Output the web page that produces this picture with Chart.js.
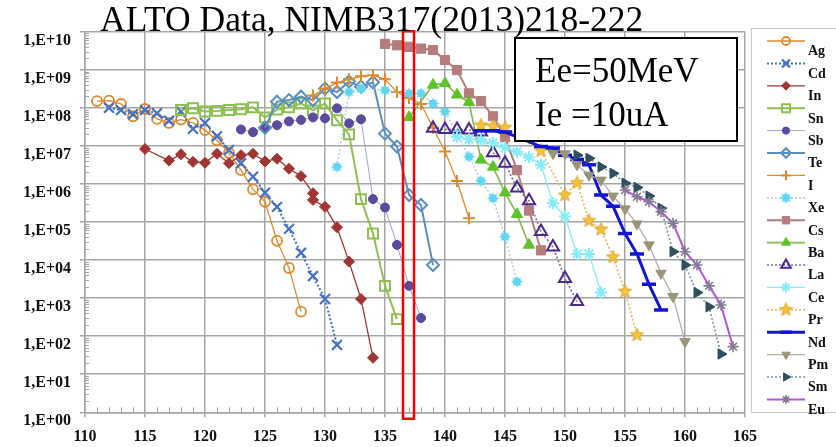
<!DOCTYPE html>
<html><head><meta charset="utf-8">
<script src="https://cdn.jsdelivr.net/npm/chart.js@4"></script>
<style>html,body{margin:0;padding:0;background:#fff;}#wrap{width:836px;height:447px;position:relative;}</style>
</head><body><div id="wrap"><canvas id="c" width="836" height="447"></canvas></div>
<script>
// ---- data (mass number A, yield) ----
const Ag_A=[111,112,113,114,115,116,117,118,119,120,121,122,123,124,125,126,127,128];
const Ag_Y=[1.5e8,1.55e8,1.26e8,6.0e7,9.3e7,5.1e7,4.0e7,4.9e7,4.0e7,2.6e7,1.4e7,6.5e6,2.3e6,7.2e5,3.4e5,3.2e4,6.2e3,4.4e2];
const Cd_A=[112,113,114,115,116,117,118,119,120,121,122,123,124,125,126,127,128,129,130,131];
const Cd_Y=[1.0e8,8.7e7,6.8e7,8.7e7,7.2e7,4.6e7,8.0e7,2.8e7,4.0e7,1.8e7,7.8e6,3.5e6,1.55e6,5.9e5,2.5e5,6.6e4,1.55e4,3.8e3,9.5e2,59];
const In_A=[115,117,118,119,120,121,122,123,124,125,126,127,128,129,129,130,131,132,133,134];
const In_Y=[8.3e6,4.1e6,6.0e6,3.8e6,3.6e6,6.2e6,3.5e6,5.7e6,6.2e6,3.9e6,4.6e6,2.5e6,1.6e6,5.7e5,3.8e5,2.5e5,7.3e4,9.1e3,9.5e2,27];
const Sn_A=[118,119,120,121,122,123,124,125,126,127,128,129,130,131,132,133,134,135,136];
const Sn_Y=[8.8e7,9.7e7,8.0e7,8.3e7,8.8e7,9.2e7,1.03e8,5.6e7,9.0e7,1.03e8,1.3e8,8.5e7,1.3e8,4.7e7,2.0e7,4.0e5,5.0e4,2.1e3,2.8e2];
const Sb_A=[123,124,125,126,127,128,129,130,131,132,133,134,135,136,137,138];
const Sb_Y=[2.7e7,2.3e7,3.0e7,3.5e7,4.4e7,4.8e7,5.6e7,5.3e7,9.7e7,3.9e7,5.0e7,4.0e5,2.4e5,2.5e4,2.1e3,3.0e2];
const Te_A=[125,126,127,128,129,130,131,132,133,134,135,136,137,138,139];
const Te_Y=[3.0e7,1.45e8,1.6e8,1.95e8,1.6e8,3.2e8,2.6e8,4.9e8,3.6e8,4.7e8,2.1e7,9.6e6,5.1e5,2.8e5,7.4e3];
const I_A=[129,130,131,132,133,134,135,136,137,138,139,140,141,142];
const I_Y=[2.1e8,3.2e8,4.6e8,5.6e8,6.8e8,7.2e8,5.6e8,2.6e8,1.8e8,1.26e8,3.0e7,7.1e6,1.2e6,1.25e5];
const Xe_A=[131,132,133,135,137,138,139,140,141,142,143,144,145,146];
const Xe_Y=[2.8e6,2.6e8,3.2e8,2.9e8,2.4e8,2.4e8,1.3e8,8.0e7,2.1e7,5.2e6,1.2e6,4.2e5,4.1e4,2.7e3];
const Cs_A=[135,136,137,138,139,140,141,142,143,144,145,146,147,148];
const Cs_Y=[4.8e9,4.4e9,4.0e9,3.6e9,3.3e9,1.8e9,9.8e8,2.4e8,1.5e8,6.0e7,1.7e7,2.3e6,2.0e5,1.8e4];
const Ba_A=[137,139,140,141,142,143,144,145,146,147];
const Ba_Y=[5.6e7,4.0e8,4.4e8,2.2e8,1.4e8,4.3e6,2.8e6,5.9e5,1.6e5,2.5e4];
const La_A=[139,140,141,142,143,144,145,146,147,148,149,150,151];
const La_Y=[2.9e7,2.7e7,2.7e7,2.6e7,2.3e7,6.6e6,3.5e6,7.8e5,3.6e5,5.6e4,2.2e4,3.3e3,8.1e2];
const Ce_A=[141,142,143,144,145,146,147,148,149,150,151,152,153];
const Ce_Y=[1.7e7,1.5e7,1.4e7,1.2e7,9.0e6,7.0e6,5.0e6,3.2e6,3.1e5,1.4e5,1.45e4,1.45e4,1.4e3];
const Pr_A=[143,144,145,148,150,151,152,153,154,155,156];
const Pr_Y=[3.5e7,3.3e7,3.0e7,7.4e6,5.1e5,1.07e6,1.08e5,6.4e4,1.2e4,1.5e3,1.07e2];
const Nd_A=[143,144,145,148,149,150,151,152,153,154,155,156,157,158];
const Nd_Y=[2.5e7,2.5e7,2.3e7,9.6e6,8.8e6,5.7e6,4.4e6,3.2e6,5.1e5,2.6e5,5.0e4,1.45e4,2.3e3,4.9e2];
const Pm_A=[149,150,151,152,153,154,155,156,157,158,159,160];
const Pm_Y=[6.3e6,6.2e6,3.2e6,1.7e6,1.26e6,4.8e5,2.2e5,8.9e4,2.5e4,4.5e3,1.1e3,72];
const Sm_A=[151,152,153,154,155,156,157,158,159,160,161,162,163];
const Sm_Y=[5.7e6,4.7e6,2.8e6,1.9e6,1.05e6,8.1e5,4.8e5,2.3e5,1.66e4,7.4e3,1.4e3,5.9e2,34];
const Eu_A=[155,156,157,158,159,160,161,162,163,164];
const Eu_Y=[6.9e5,4.6e5,3.4e5,1.86e5,9.3e4,1.66e4,7.4e3,2.1e3,6.6e2,53];

const xTickLabels=['110','115','120','125','130','135','140','145','150','155','160','165'];
const yTickValues=[1,1e1,1e2,1e3,1e4,1e5,1e6,1e7,1e8,1e9,1e10];
const yTickLabels=['1,E+00','1,E+01','1,E+02','1,E+03','1,E+04','1,E+05','1,E+06','1,E+07','1,E+08','1,E+09','1,E+10'];
const titleText='ALTO Data, NIMB317(2013)218-222';
const boxLines=['Ee=50MeV','Ie =10uA'];

function pts(A,Y){return A.map((a,i)=>({x:a,y:Y[i]}));}

function starMarker(size,nPts,rOut,rIn,fill,stroke){
  const c=document.createElement('canvas');c.width=c.height=size;
  const g=c.getContext('2d');const cx=size/2,cy=size/2;
  g.beginPath();
  for(let i=0;i<nPts*2;i++){
    const r=i%2===0?rOut:rIn;const a=-Math.PI/2+i*Math.PI/nPts;
    const px=cx+r*Math.cos(a),py=cy+r*Math.sin(a);
    if(i===0)g.moveTo(px,py);else g.lineTo(px,py);
  }
  g.closePath();g.fillStyle=fill;g.fill();
  if(stroke){g.strokeStyle=stroke;g.lineWidth=1;g.stroke();}
  return c;
}
const prStar=starMarker(15,5,7,3,'#F5C23C','#E0A42C');
const xeFlower=starMarker(13,8,6,3.6,'#5FD5F2',null);

function ds(label,A,Y,o){
  return Object.assign({label,data:pts(A,Y),showLine:true,tension:0,fill:false,
    pointHoverRadius:0},o);
}
const T='rgba(255,255,255,0)';
const datasets=[
 ds('Ag',Ag_A,Ag_Y,{borderColor:'#DD8A2E',borderWidth:1.3,pointStyle:'circle',pointRadius:5,pointBorderWidth:1.8,pointBorderColor:'#DD8A2E',pointBackgroundColor:T}),
 ds('Cd',Cd_A,Cd_Y,{borderColor:'#4472C4',borderWidth:2,borderDash:[2,2],pointStyle:'crossRot',pointRadius:7,pointBorderWidth:2.2,pointBorderColor:'#4472C4',pointBackgroundColor:'#4472C4'}),
 ds('In',In_A,In_Y,{borderColor:'#A03634',borderWidth:1.3,pointStyle:'rectRot',pointRadius:5.5,pointBorderWidth:1,pointBorderColor:'#A03634',pointBackgroundColor:'#A03634'}),
 ds('Sn',Sn_A,Sn_Y,{borderColor:'#8DC04F',borderWidth:2,pointStyle:'rect',pointRadius:7,pointBorderWidth:2,pointBorderColor:'#8DC04F',pointBackgroundColor:T}),
 ds('Sb',Sb_A,Sb_Y,{borderColor:'#A99FD0',borderWidth:1,pointStyle:'circle',pointRadius:4.5,pointBorderWidth:1,pointBorderColor:'#5B4A9E',pointBackgroundColor:'#5B4A9E'}),
 ds('Te',Te_A,Te_Y,{borderColor:'#5B8FBF',borderWidth:2,pointStyle:'rectRot',pointRadius:6,pointBorderWidth:2,pointBorderColor:'#5B8FBF',pointBackgroundColor:T}),
 ds('I',I_A,I_Y,{borderColor:'#E08A2E',borderWidth:1.3,pointStyle:'cross',pointRadius:6,pointBorderWidth:2,pointBorderColor:'#E08A2E',pointBackgroundColor:'#E08A2E'}),
 ds('Xe',Xe_A,Xe_Y,{borderColor:'#A8BDE0',borderWidth:1.2,borderDash:[2,2],pointStyle:xeFlower,pointRadius:6,pointBorderWidth:0,pointBorderColor:'#5FD5F2',pointBackgroundColor:'#5FD5F2'}),
 ds('Cs',Cs_A,Cs_Y,{borderColor:'#B47C7C',borderWidth:2,pointStyle:'rect',pointRadius:6.5,pointBorderWidth:1,pointBorderColor:'#B47C7C',pointBackgroundColor:'#B47C7C'}),
 ds('Ba',Ba_A,Ba_Y,{borderColor:'#86B84A',borderWidth:1.6,pointStyle:'triangle',pointRadius:6.5,pointBorderWidth:1,pointBorderColor:'#5FC22A',pointBackgroundColor:'#5FC22A'}),
 ds('La',La_A,La_Y,{borderColor:'#7D6FA8',borderWidth:1.6,borderDash:[2,2],pointStyle:'triangle',pointRadius:7,pointBorderWidth:2,pointBorderColor:'#4B2A8C',pointBackgroundColor:T}),
 ds('Ce',Ce_A,Ce_Y,{borderColor:'#86ECF7',borderWidth:1.3,pointStyle:'star',pointRadius:6,pointBorderWidth:2,pointBorderColor:'#86ECF7',pointBackgroundColor:'#86ECF7'}),
 ds('Pr',Pr_A,Pr_Y,{borderColor:'#E6B65A',borderWidth:1.6,borderDash:[2,2],pointStyle:prStar,pointRadius:7,pointBorderWidth:0,pointBorderColor:'#F5C23C',pointBackgroundColor:'#F5C23C'}),
 ds('Nd',Nd_A,Nd_Y,{borderColor:'#1414D6',borderWidth:3,pointStyle:'line',pointRadius:7,pointBorderWidth:3.5,pointBorderColor:'#1414D6',pointBackgroundColor:'#1414D6'}),
 ds('Pm',Pm_A,Pm_Y,{borderColor:'#B8B0A0',borderWidth:1.3,pointStyle:'triangle',pointRotation:180,pointRadius:6,pointBorderWidth:1,pointBorderColor:'#9A947A',pointBackgroundColor:'#9A947A'}),
 ds('Sm',Sm_A,Sm_Y,{borderColor:'#7C98A6',borderWidth:1.6,borderDash:[2,2],pointStyle:'triangle',pointRotation:90,pointRadius:6,pointBorderWidth:1,pointBorderColor:'#2F4E5E',pointBackgroundColor:'#2F4E5E'}),
 ds('Eu',Eu_A,Eu_Y,{borderColor:'#B453DC',borderWidth:2,pointStyle:'star',pointRadius:5.5,pointBorderWidth:1.6,pointBorderColor:'#857A94',pointBackgroundColor:'#857A94'})
];
datasets.forEach((d,i)=>{d.order=datasets.length-i;});

const overlay={
  id:'overlay',
  beforeDatasetsDraw(chart){
    const ctx=chart.ctx,xs=chart.scales.x,ys=chart.scales.y,ca=chart.chartArea;
    ctx.save();ctx.strokeStyle='#A6A6A6';ctx.lineWidth=1;
    ctx.beginPath();
    for(let e=0;e<10;e++){for(let m=2;m<=9;m++){const y=Math.round(ys.getPixelForValue(m*Math.pow(10,e)))+0.5;ctx.moveTo(ca.left,y);ctx.lineTo(ca.left+4,y);}}
    for(let a=111;a<165;a++){if(a%5===0)continue;const x=Math.round(xs.getPixelForValue(a))+0.5;ctx.moveTo(x,ca.bottom);ctx.lineTo(x,ca.bottom-5);}
    ctx.stroke();ctx.restore();
  },
  afterDraw(chart){
    const ctx=chart.ctx,xs=chart.scales.x,ca=chart.chartArea;
    ctx.save();
    // legend box
    ctx.fillStyle='#fff';ctx.fillRect(751,28,90,384);
    ctx.strokeStyle='#C9C9C9';ctx.lineWidth=1;ctx.strokeRect(751.5,28.5,100,384);
    chart.data.datasets.forEach((d,i)=>{
      const y=41+i*22.4;
      ctx.save();ctx.strokeStyle=d.borderColor;ctx.lineWidth=Math.min(d.borderWidth,3);ctx.setLineDash(d.borderDash||[]);
      ctx.beginPath();ctx.moveTo(767,y);ctx.lineTo(805,y);ctx.stroke();ctx.restore();
      ctx.save();ctx.strokeStyle=d.pointBorderColor;ctx.fillStyle=d.pointBackgroundColor;ctx.lineWidth=d.pointBorderWidth;
      const r=typeof d.pointStyle==='string'?d.pointRadius*0.8:d.pointRadius;
      if(Chart.helpers&&Chart.helpers.drawPoint){
        Chart.helpers.drawPoint(ctx,{pointStyle:d.pointStyle,rotation:d.pointRotation||0,radius:r,borderWidth:d.pointBorderWidth},786,y);
      }
      ctx.restore();
      ctx.fillStyle='#111';ctx.font='bold 14px "Liberation Serif"';ctx.textBaseline='middle';ctx.textAlign='left';
      ctx.fillText(d.label,808,y+10.7);
    });
    // red marker rectangle
    const l=xs.getPixelForValue(136.5),r=xs.getPixelForValue(137.42);
    ctx.strokeStyle='#FF0000';ctx.lineWidth=2.5;ctx.strokeRect(l,ca.top-0.5,r-l,ca.bottom+7-ca.top);
    // text box
    ctx.fillStyle='#fff';ctx.fillRect(515,38,222,103);
    ctx.strokeStyle='#000';ctx.lineWidth=2;ctx.strokeRect(515,38,222,103);
    ctx.fillStyle='#000';ctx.font='35px "Liberation Serif"';ctx.textBaseline='alphabetic';
    ctx.fillText(boxLines[0],535,82);ctx.fillText(boxLines[1],535,126);
    // title
    ctx.font='35.5px "Liberation Serif"';ctx.fillText(titleText,100,31);
    ctx.restore();
  }
};

new Chart(document.getElementById('c'),{
  type:'scatter',
  data:{datasets},
  options:{
    responsive:false,animation:false,devicePixelRatio:1,
    layout:{padding:{left:0,right:91,top:31.7,bottom:0}},
    plugins:{legend:{display:false},title:{display:false},tooltip:{enabled:false}},
    elements:{line:{borderJoinStyle:'round'}},
    scales:{
      x:{type:'linear',min:110,max:165,
        afterFit:s=>{s.height=34.7;},
        ticks:{stepSize:5,autoSkip:false,padding:10,color:'#111',font:{family:'"Liberation Serif"',weight:'bold',size:16},
          callback:(v)=>{const i=Math.round((v-110)/5);return xTickLabels[i];}},
        grid:{color:'#A6A6A6',lineWidth:1.5,tickLength:5},
        border:{color:'#A6A6A6',width:1.5}},
      y:{type:'logarithmic',min:1,max:1e10,
        afterFit:s=>{s.width=85;},
        afterBuildTicks:a=>{a.ticks=yTickValues.map(v=>({value:v}));},
        ticks:{autoSkip:false,padding:9,labelOffset:9,color:'#111',font:{family:'"Liberation Serif"',weight:'bold',size:16},
          callback:(v)=>yTickLabels[Math.round(Math.log10(v))]},
        grid:{color:'#A6A6A6',lineWidth:1.5,tickLength:5},
        border:{color:'#A6A6A6',width:1.5}}
    }
  },
  plugins:[overlay]
});
</script></body></html>
